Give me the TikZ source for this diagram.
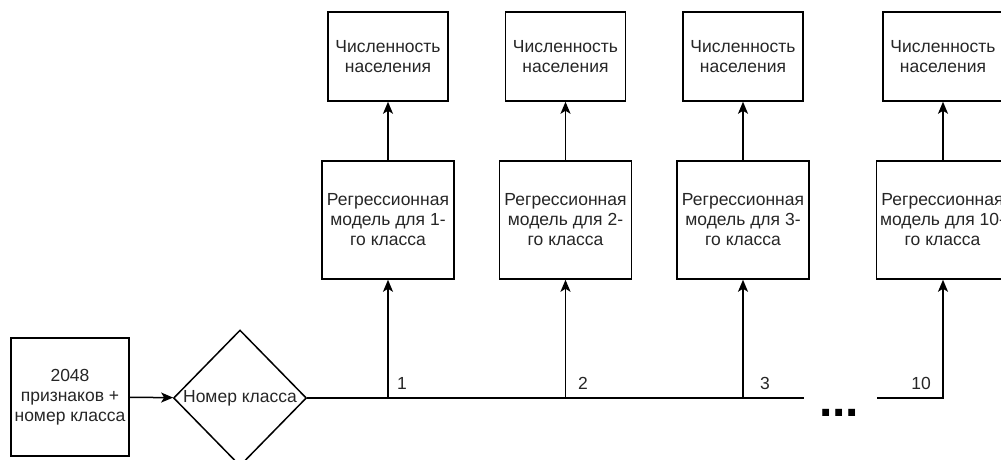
\documentclass[tikz,border=0pt]{standalone}
\usepackage{fontspec}
\setmainfont{Liberation Sans}
\usetikzlibrary{shapes.geometric,arrows.meta}
\begin{document}
\begin{tikzpicture}[x=1pt,y=-1pt,
  ln/.style={line width=1.5pt, draw=black},
  arr/.style={ln, -{Stealth[length=12pt,width=10pt,inset=3pt]}},
  txt/.style={font=\fontsize{17.5}{20}\selectfont, text=black!85},
  box/.style={ln, txt, inner sep=0pt, align=center},
  regbox/.style={box, minimum width=132pt, minimum height=118pt},
  popbox/.style={box, minimum width=120pt, minimum height=89pt},
  dia/.style={ln, txt, diamond, inner sep=0pt, minimum width=133pt, minimum height=136pt},
  lbl/.style={txt, inner sep=0pt, anchor=base}]
\useasboundingbox (0,0) rectangle (1001,459);
\fill[white] (0,0) rectangle (1001,459);
\clip (0,0) rectangle (1001,459);

\node[box, minimum width=118pt, minimum height=118pt] (in) at (70,397) {2048\\признаков +\\номер класса};
\node[dia] (cls) at (240,398) {Номер класса};

\node[regbox] (r1) at (388,220) {Регрессионная\\модель для 1-\\го класса};
\node[regbox] (r2) at (565.5,220) {Регрессионная\\модель для 2-\\го класса};
\node[regbox] (r3) at (743,220) {Регрессионная\\модель для 3-\\го класса};
\node[regbox] (r10) at (942.5,220) {Регрессионная\\модель для 10-\\го класса};

\node[popbox] (p1) at (388,56.5) {Численность\\населения};
\node[popbox] (p2) at (565.5,56.5) {Численность\\населения};
\node[popbox] (p3) at (743,56.5) {Численность\\населения};
\node[popbox] (p10) at (943,56.5) {Численность\\населения};

\draw[arr] (r1) -- (p1);
\draw[arr] (r2) -- (p2);
\draw[arr] (r3) -- (p3);
\draw[arr] (r10.north -| p10) -- (p10);

\draw[arr] (in) -- (cls);

\coordinate (b1) at (388,398);
\coordinate (b2) at (565.5,398);
\coordinate (b3) at (743,398);
\coordinate (e3) at (804,398);
\coordinate (s10) at (877,398);
\coordinate (b10) at (943,398);

\draw[ln] (cls.east) -- (e3);
\draw[arr] (b1) -- (r1.south);
\draw[arr] (b2) -- (r2.south);
\draw[arr] (b3) -- (r3.south);
\draw[arr] (s10) -- (b10) -- (b10 |- r10.south);

\node[lbl] (l1) at (402,389) {1};
\node[lbl] (l2) at (583,389) {2};
\node[lbl] (l3) at (765,389) {3};
\node[lbl] (l10) at (921,389) {10};

\node[inner sep=0pt, anchor=base, font=\fontsize{48}{48}\selectfont\bfseries] (dots) at (839,416) {...};
\end{tikzpicture}
\end{document}
